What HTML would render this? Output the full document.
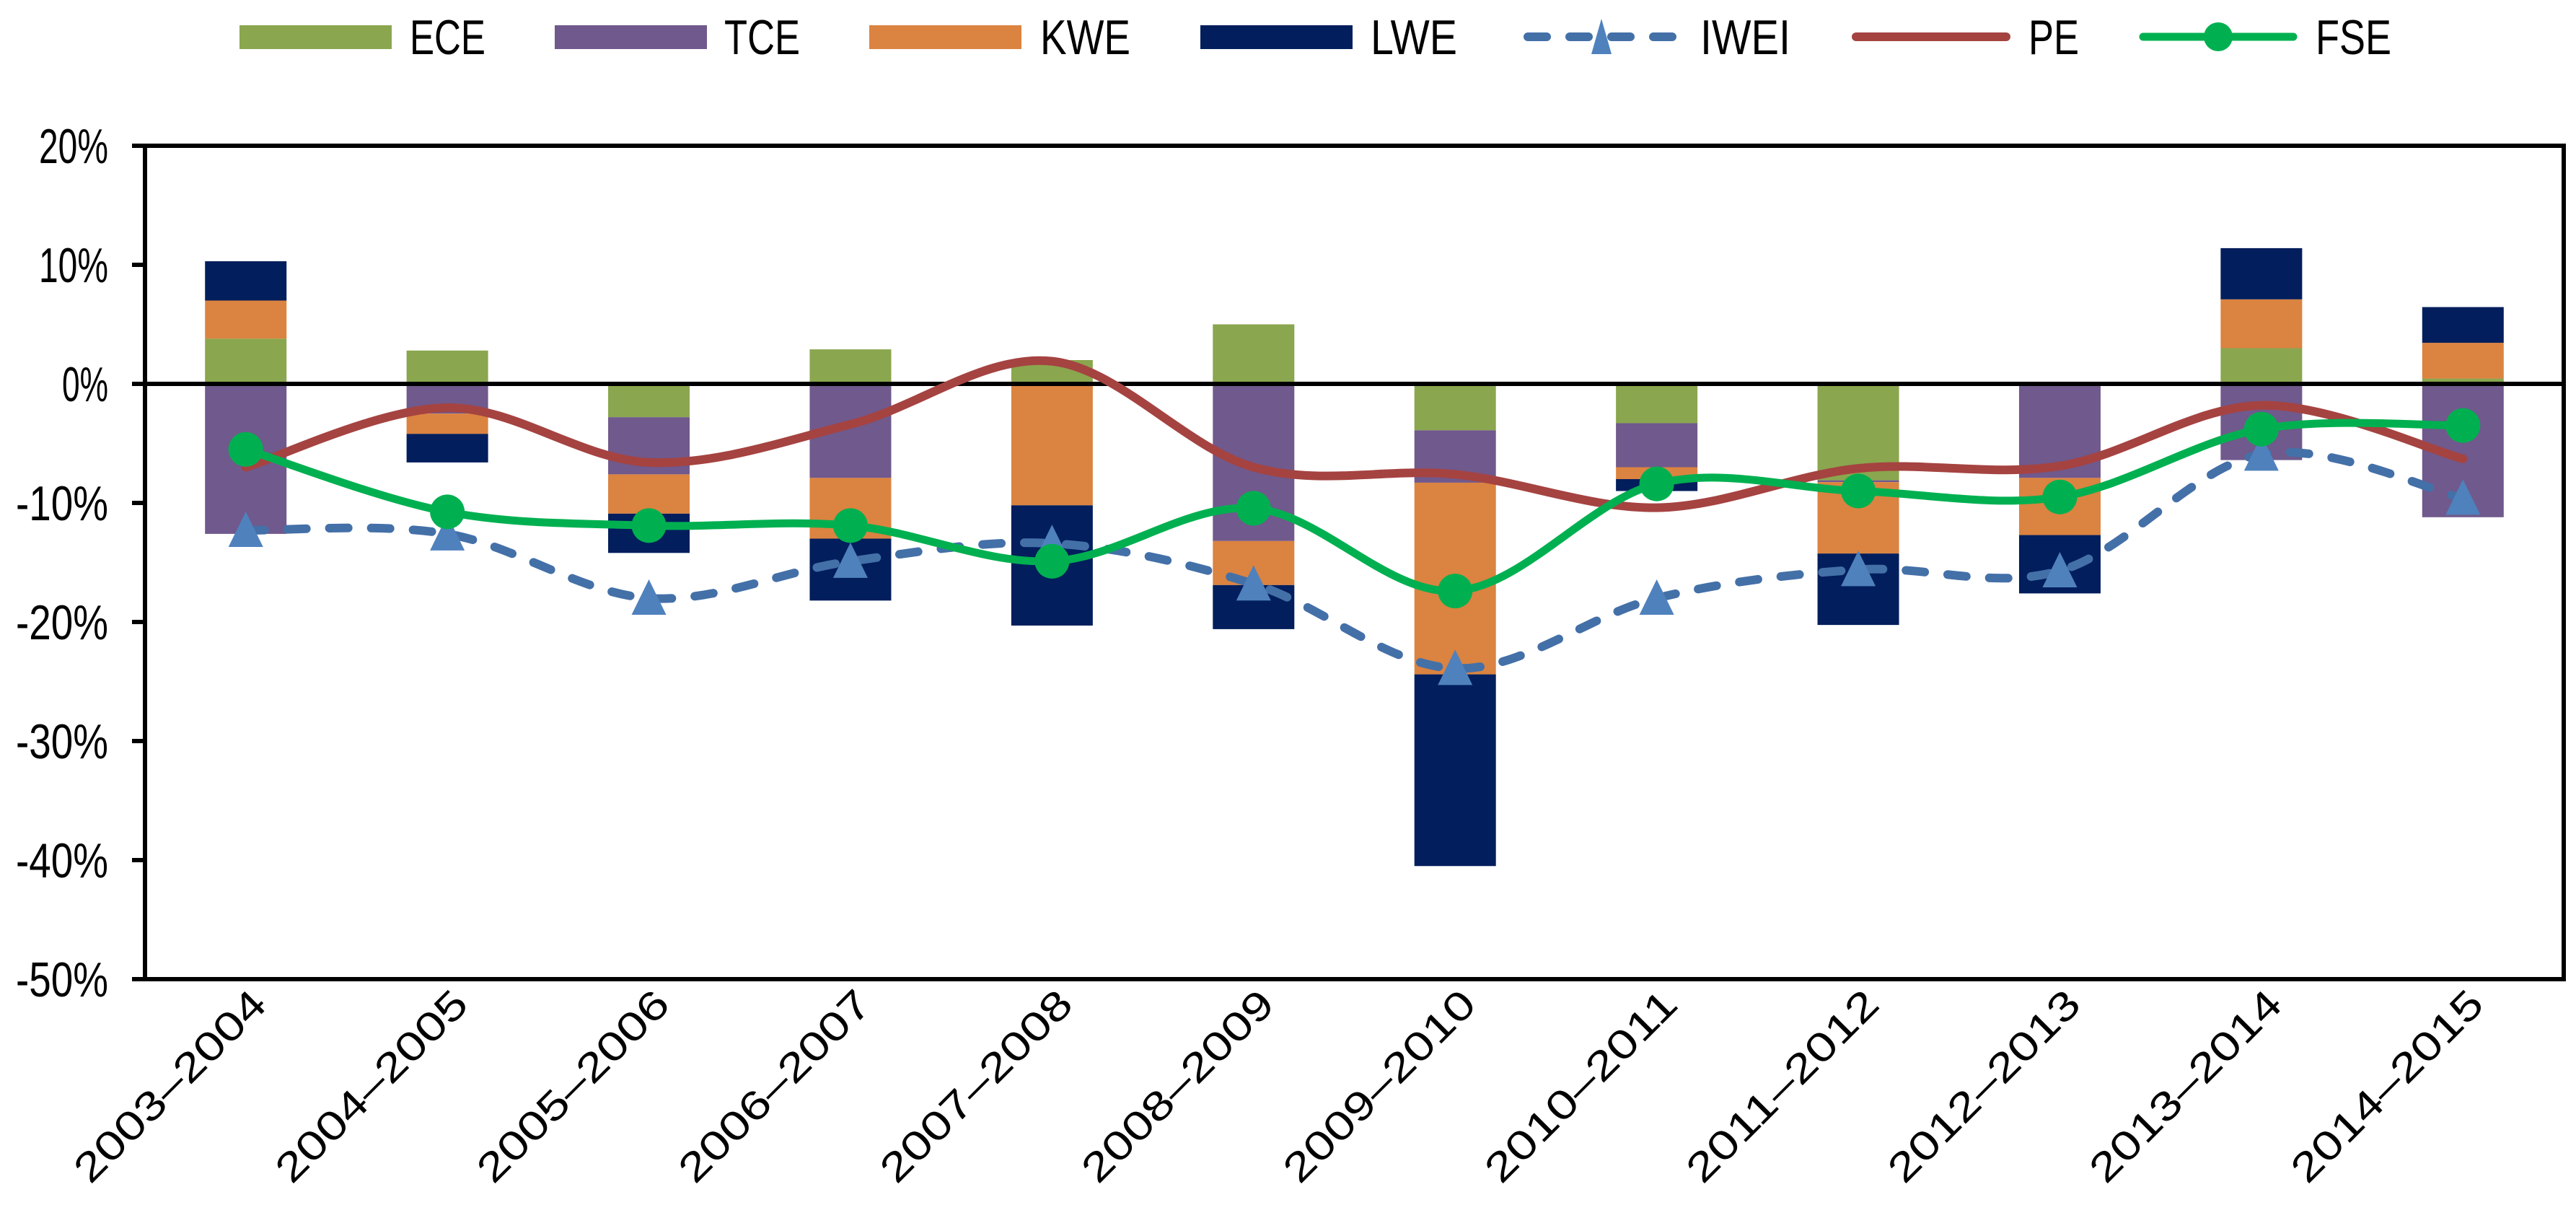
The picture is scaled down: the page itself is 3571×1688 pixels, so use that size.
<!DOCTYPE html>
<html><head><meta charset="utf-8"><style>
html,body{margin:0;padding:0;background:#fff;}
svg{display:block;font-family:"Liberation Sans",sans-serif;}
</style></head><body>
<svg id="chart" width="3571" height="1688" viewBox="0 0 3571 1688" xmlns="http://www.w3.org/2000/svg"></svg>
<script>
const categories=["2003–2004","2004–2005","2005–2006","2006–2007","2007–2008","2008–2009","2009–2010","2010–2011","2011–2012","2012–2013","2013–2014","2014–2015"];
const ECE=[3.8,2.8,-2.8,2.9,2.0,5.0,-3.9,-3.3,-8.1,0,3.0,0.45];
const TCE=[-12.6,-2.5,-4.8,-7.9,0,-13.2,-4.4,-3.7,-0.15,-7.9,-6.4,-11.2];
const KWE=[3.2,-1.7,-3.3,-5.1,-10.2,-3.7,-16.1,-1.0,-6.0,-4.8,4.1,3.0];
const LWE=[3.3,-2.4,-3.3,-5.2,-10.1,-3.7,-16.1,-1.0,-6.0,-4.9,4.3,3.0];
const IWEI=[-12.3,-12.6,-18.0,-14.9,-13.4,-16.8,-23.9,-18.0,-15.6,-15.7,-5.9,-9.6];
const PE=[-7.0,-2.0,-6.6,-3.4,1.9,-7.0,-7.6,-10.4,-7.1,-6.9,-1.8,-6.3];
const FSE=[-5.5,-10.75,-11.9,-11.9,-14.9,-10.45,-17.4,-8.4,-9.0,-9.5,-3.8,-3.5];
const yTicks=[20,10,0,-10,-20,-30,-40,-50];

const svg=document.getElementById('chart');
const NS='http://www.w3.org/2000/svg';
const L=201,R=3554,T=202,B=1357,YMAX=20,YMIN=-50;
const bw=(R-L)/categories.length;
function x(i){return L+bw*(i+0.5);}
function y(v){return T+(YMAX-v)/(YMAX-YMIN)*(B-T);}
function mk(tag,attrs,parent){const e=document.createElementNS(NS,tag);for(const k in attrs)e.setAttribute(k,attrs[k]);(parent||svg).appendChild(e);return e;}

const frame=mk('rect',{x:L,y:T,width:R-L,height:B-T,fill:'none',stroke:'#000','stroke-width':6});


yTicks.forEach(t=>{
  const tk=mk('line',{x1:L-18,x2:L,y1:y(t),y2:y(t),stroke:'#000','stroke-width':6});
  
  
  const s=t+'%';
  const lb=mk('text',{x:150,y:y(t)+24,'text-anchor':'end','font-size':68,fill:'#000',textLength:s.length*32,lengthAdjust:'spacingAndGlyphs'});
  lb.textContent=s;
  
  
});
categories.forEach((c,i)=>{
  const tx=x(i)+32,ty=1395;
  const lb=mk('text',{x:tx,y:ty,'text-anchor':'end','font-size':56,fill:'#000',textLength:350,lengthAdjust:'spacingAndGlyphs',transform:`rotate(-45 ${tx} ${ty})`});
  lb.textContent=c;
  
  
});

const series=[[ECE,'#8aa64e','ece'],[TCE,'#70598c','tce'],[KWE,'#db8340','kwe'],[LWE,'#021e5c','lwe']];
const barW=113;
categories.forEach((c,i)=>{
  let pos=0,neg=0;
  series.forEach(([arr,col,nm])=>{
    const v=arr[i];let y0,y1;
    if(v>=0){y0=pos;y1=pos+v;pos=y1;}else{y0=neg;y1=neg+v;neg=y1;}
    const top=Math.min(y(y0),y(y1)),h=Math.abs(y(y0)-y(y1));
    const r=mk('rect',{x:x(i)-barW/2,y:top,width:barW,height:h,fill:col});
    
    
  });
});
const zl=mk('line',{x1:L,x2:R,y1:y(0),y2:y(0),stroke:'#000','stroke-width':6});



function smooth(arr){
  const p=arr.map((v,i)=>[x(i),y(v)]);
  let d=`M${p[0][0]},${p[0][1]}`;
  for(let i=0;i<p.length-1;i++){
    const p0=p[i-1]||p[i],p1=p[i],p2=p[i+1],p3=p[i+2]||p2;
    const t=1/6;
    d+=` C${p1[0]+(p2[0]-p0[0])*t},${p1[1]+(p2[1]-p0[1])*t} ${p2[0]-(p3[0]-p1[0])*t},${p2[1]-(p3[1]-p1[1])*t} ${p2[0]},${p2[1]}`;
  }
  return d;
}
const pe=mk('path',{d:smooth(PE),fill:'none',stroke:'#a54341','stroke-width':12,'stroke-linecap':'round'});


const iw=mk('path',{d:smooth(IWEI),fill:'none',stroke:'#4470a8','stroke-width':12,'stroke-linecap':'round','stroke-dasharray':'26 32'});


IWEI.forEach((v,i)=>{
  const cx=x(i),cy=y(v);
  const t=mk('polygon',{points:`${cx},${cy-26} ${cx-24},${cy+23} ${cx+24},${cy+23}`,fill:'#4f81bd'});
  
  
});
const fs=mk('path',{d:smooth(FSE),fill:'none',stroke:'#00b050','stroke-width':11,'stroke-linecap':'round'});


FSE.forEach((v,i)=>{
  const c=mk('circle',{cx:x(i),cy:y(v),r:24,fill:'#00b050'});
  
  
});

const leg=mk('g',{});


const legItems=[['ECE','rect','#8aa64e',332,568,105],['TCE','rect','#70598c',769,1004,105],['KWE','rect','#db8340',1205,1442,125],['LWE','rect','#021e5c',1664,1900,120],['IWEI','tri','#4470a8',2112,2357,125],['PE','line','#a54341',2567,2812,70],['FSE','circ','#00b050',2965,3210,105]];
legItems.forEach(([name,type,col,sx,tx,tl])=>{
  const g=mk('g',{},leg);
  
  
  if(type==='rect'){mk('rect',{x:sx,y:35,width:211,height:33,fill:col},g);}
  else if(type==='tri'){
    mk('line',{x1:sx+6,x2:sx+212,y1:51,y2:51,stroke:col,'stroke-width':12,'stroke-linecap':'round','stroke-dasharray':'26 32'},g);
    const cx=sx+108;
    mk('polygon',{points:`${cx},${26} ${cx-14},${75} ${cx+14},${75}`,fill:'#4f81bd'},g);
  } else if(type==='line'){
    mk('line',{x1:sx+6,x2:sx+214,y1:51,y2:51,stroke:col,'stroke-width':12,'stroke-linecap':'round'},g);
  } else {
    mk('line',{x1:sx+6,x2:sx+214,y1:51,y2:51,stroke:col,'stroke-width':11,'stroke-linecap':'round'},g);
    mk('circle',{cx:sx+110,cy:51,r:20,fill:col},g);
  }
  const t=mk('text',{x:tx,y:75,'font-size':68,fill:'#000',textLength:tl,lengthAdjust:'spacingAndGlyphs'},g);
  t.textContent=name;
});
</script>
</body></html>
